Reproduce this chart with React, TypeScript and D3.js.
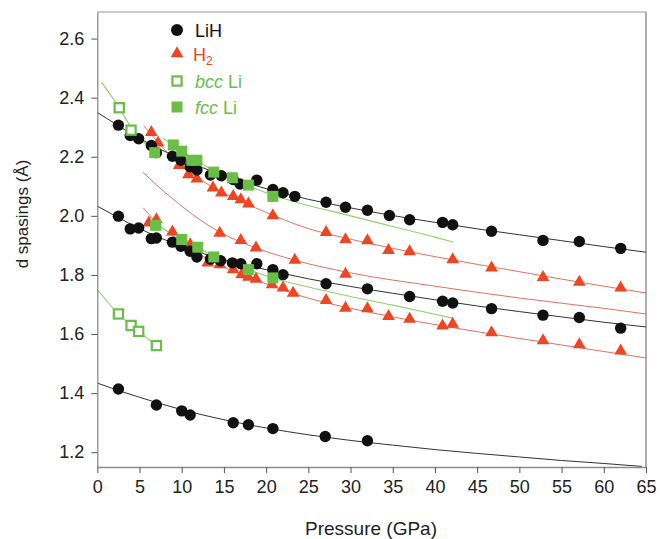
import React, { useRef, useEffect } from "react";
import * as d3 from "d3";

// LiH (black circles), three reflections
const lihUpperP = [2.5, 3.9, 4.9, 6.4, 7.0, 8.9, 9.9, 11.0, 11.8, 13.4, 14.7, 16.1, 16.9, 18.9, 20.8, 22.0, 23.4, 27.1, 29.4, 32.0, 34.6, 37.0, 40.9, 42.1, 46.7, 52.8, 57.1, 62.0];
const lihUpperD = [2.307, 2.272, 2.261, 2.238, 2.214, 2.202, 2.188, 2.166, 2.155, 2.138, 2.136, 2.123, 2.108, 2.121, 2.089, 2.078, 2.066, 2.046, 2.029, 2.019, 2.001, 1.987, 1.978, 1.970, 1.948, 1.917, 1.913, 1.890];
const lihMiddleP = [2.5, 3.9, 4.9, 6.4, 7.0, 8.9, 9.9, 11.0, 11.8, 13.4, 14.6, 16.0, 17.0, 18.9, 20.8, 22.0, 27.1, 32.0, 37.0, 40.9, 42.1, 46.7, 52.8, 57.1, 62.0];
const lihMiddleD = [1.999, 1.956, 1.959, 1.923, 1.925, 1.911, 1.897, 1.880, 1.861, 1.854, 1.848, 1.841, 1.838, 1.838, 1.818, 1.801, 1.770, 1.753, 1.727, 1.711, 1.705, 1.686, 1.664, 1.656, 1.620];
const lihLowerP = [2.5, 7.0, 10.0, 11.0, 16.1, 17.9, 20.8, 27.0, 32.0];
const lihLowerD = [1.414, 1.360, 1.340, 1.326, 1.300, 1.293, 1.280, 1.253, 1.239];

// H2 (red triangles)
const h2UpperP = [6.4, 7.2, 9.7, 10.8, 11.8, 13.7, 14.7, 16.1, 17.0, 17.9, 20.8, 27.1, 29.4, 32.0, 34.5, 37.0, 42.1, 46.7, 52.8, 57.1, 62.0];
const h2UpperD = [2.283, 2.247, 2.171, 2.140, 2.125, 2.095, 2.078, 2.066, 2.055, 2.041, 2.001, 1.944, 1.920, 1.916, 1.883, 1.879, 1.852, 1.824, 1.792, 1.776, 1.756];
const h2MiddleP = [14.5, 17.0, 18.8, 23.4, 29.4];
const h2MiddleD = [1.942, 1.917, 1.892, 1.850, 1.803];
const h2LowerP = [6.1, 7.0, 8.9, 11.0, 13.1, 14.5, 16.1, 17.1, 17.9, 18.8, 20.7, 22.0, 23.2, 27.1, 29.4, 32.0, 34.5, 37.0, 40.9, 42.1, 46.7, 52.8, 57.1, 62.0];
const h2LowerD = [1.976, 1.987, 1.946, 1.903, 1.841, 1.835, 1.818, 1.801, 1.793, 1.786, 1.767, 1.756, 1.739, 1.714, 1.688, 1.686, 1.660, 1.651, 1.628, 1.634, 1.605, 1.578, 1.564, 1.543];

// Li (green squares)
const bccUpperP = [2.6, 4.0];
const bccUpperD = [2.366, 2.290];
const bccLowerP = [2.5, 4.0, 4.9, 7.0];
const bccLowerD = [1.668, 1.629, 1.609, 1.561];
const fccUpperP = [6.8, 9.0, 10.0, 11.2, 11.8, 13.8, 16.0, 17.9, 20.8];
const fccUpperD = [2.214, 2.240, 2.219, 2.188, 2.188, 2.148, 2.129, 2.104, 2.066];
const fccLowerP = [6.9, 10.0, 11.9, 13.8, 17.9, 20.8];
const fccLowerD = [1.968, 1.920, 1.894, 1.861, 1.818, 1.790];

// fitted curves
const fitP = [0, 2.5, 5, 10, 15, 20, 25, 30, 35, 40, 45, 50, 55, 60, 65];
const fitLihUpperD = [2.350, 2.305, 2.262, 2.192, 2.137, 2.092, 2.056, 2.027, 2.001, 1.978, 1.956, 1.936, 1.916, 1.896, 1.877];
const fitLihMiddleD = [2.033, 1.994, 1.957, 1.897, 1.852, 1.818, 1.787, 1.761, 1.738, 1.716, 1.695, 1.676, 1.658, 1.640, 1.624];
const fitLihLowerP = [0, 2.5, 5, 10, 15, 20, 25, 30, 35, 40, 45, 50, 55, 60, 64.5];
const fitLihLowerD = [1.434, 1.409, 1.386, 1.344, 1.310, 1.282, 1.259, 1.240, 1.224, 1.209, 1.196, 1.184, 1.172, 1.162, 1.152];
const fitH2UpperP = [5.5, 7, 10, 15, 20, 25, 30, 35, 40, 45, 50, 55, 60, 65];
const fitH2UpperD = [2.305, 2.255, 2.168, 2.077, 2.012, 1.957, 1.921, 1.890, 1.862, 1.836, 1.811, 1.786, 1.762, 1.739];
const fitH2MiddleP = [5.4, 7, 9, 12, 14.5, 18, 23.4, 30, 40, 50, 60, 65];
const fitH2MiddleD = [2.148, 2.105, 2.056, 1.990, 1.945, 1.900, 1.850, 1.807, 1.762, 1.722, 1.687, 1.668];
const fitH2LowerP = [5.45, 7, 10, 13, 16, 20, 24, 30, 35, 40, 45, 50, 55, 60, 65];
const fitH2LowerD = [2.027, 1.978, 1.912, 1.855, 1.814, 1.770, 1.730, 1.687, 1.658, 1.632, 1.608, 1.585, 1.563, 1.541, 1.519];
const fitFccUpperP = [7.8, 9, 10, 12, 14, 16, 18, 20.8, 24, 30, 35, 40, 42.2];
const fitFccUpperD = [2.262, 2.240, 2.221, 2.183, 2.150, 2.124, 2.100, 2.070, 2.043, 2.000, 1.964, 1.928, 1.911];
const fitFccLowerP = [6.5, 10, 14, 18, 21, 26.4, 30, 35, 40, 42.2];
const fitFccLowerD = [1.978, 1.920, 1.862, 1.817, 1.788, 1.750, 1.727, 1.698, 1.667, 1.653];
const fitBccUpperP = [0.5, 2.6, 4.0, 5.5, 6.8];
const fitBccUpperD = [2.452, 2.366, 2.300, 2.250, 2.215];
const fitBccLowerP = [0, 2.5, 4.0, 4.9, 7.0];
const fitBccLowerD = [1.750, 1.668, 1.629, 1.609, 1.561];

const xTicks = [0, 5, 10, 15, 20, 25, 30, 35, 40, 45, 50, 55, 60, 65];
const yTicks = [1.2, 1.4, 1.6, 1.8, 2.0, 2.2, 2.4, 2.6];

const BLACK = "#111";
const RED = "#ee4523";
const GREEN = "#6abd45";
const FONT = "'Liberation Sans', Arial, sans-serif";

const zip = (p: number[], d: number[]) => p.map((v, i) => [v, d[i]] as [number, number]);

export default function App() {
  const xAxisRef = useRef<SVGGElement>(null);
  const yAxisRef = useRef<SVGGElement>(null);

  const width = 660;
  const height = 539;
  const left = 97.3, right = 646, top = 12, bottom = 467;

  const x = d3.scaleLinear().domain([0, 65]).range([left, right]);
  const y = d3.scaleLinear().domain([1.15, 2.69]).range([bottom, top]);

  useEffect(() => {
    const gx = d3.select(xAxisRef.current);
    gx.call(
      d3.axisBottom(x).tickValues(xTicks).tickSize(6).tickPadding(7).tickSizeOuter(0).tickFormat(d3.format("d")) as any
    );
    const gy = d3.select(yAxisRef.current);
    gy.call(
      d3.axisLeft(y).tickValues(yTicks).tickSize(6).tickPadding(7).tickSizeOuter(0).tickFormat(d3.format(".1f")) as any
    );
    [gx, gy].forEach((g) => {
      g.select(".domain").attr("stroke", "#8c8c8c").attr("stroke-width", 1.3);
      g.selectAll(".tick line").attr("stroke", "#555");
      g.selectAll(".tick text").attr("fill", "#222").style("font-family", FONT).style("font-size", "18px");
    });
  }, []);

  const line = d3
    .line<[number, number]>()
    .x((d) => x(d[0]))
    .y((d) => y(d[1]))
    .curve(d3.curveMonotoneX);

  const tri = d3.symbol().type(d3.symbolTriangle).size(70)() as string;

  const fits = [
    { pts: zip(fitP, fitLihUpperD), color: "#333", w: 1 },
    { pts: zip(fitP, fitLihMiddleD), color: "#333", w: 1 },
    { pts: zip(fitLihLowerP, fitLihLowerD), color: "#333", w: 1 },
    { pts: zip(fitH2UpperP, fitH2UpperD), color: "#e0604c", w: 0.9 },
    { pts: zip(fitH2MiddleP, fitH2MiddleD), color: "#e0604c", w: 0.9 },
    { pts: zip(fitH2LowerP, fitH2LowerD), color: "#e0604c", w: 0.9 },
    { pts: zip(fitFccUpperP, fitFccUpperD), color: "#8ed26c", w: 1.1 },
    { pts: zip(fitFccLowerP, fitFccLowerD), color: "#8ed26c", w: 1.1 },
    { pts: zip(fitBccUpperP, fitBccUpperD), color: "#8ed26c", w: 1.1 },
    { pts: zip(fitBccLowerP, fitBccLowerD), color: "#8ed26c", w: 1.1 },
  ];

  const lih = [...zip(lihUpperP, lihUpperD), ...zip(lihMiddleP, lihMiddleD), ...zip(lihLowerP, lihLowerD)];
  const h2 = [...zip(h2UpperP, h2UpperD), ...zip(h2MiddleP, h2MiddleD), ...zip(h2LowerP, h2LowerD)];
  const bcc = [...zip(bccUpperP, bccUpperD), ...zip(bccLowerP, bccLowerD)];
  const fcc = [...zip(fccUpperP, fccUpperD), ...zip(fccLowerP, fccLowerD)];

  const legendX = 177;
  const legendText = 195;

  return (
    <svg width={width} height={height} style={{ position: "absolute", left: 0, top: 0, background: "#fff" }}>
      {/* frame */}
      <line x1={left} x2={right} y1={top} y2={top} stroke="#9a9a9a" strokeWidth={1.2} />
      <line x1={right} x2={right} y1={top} y2={bottom} stroke="#9a9a9a" strokeWidth={1.6} />

      {fits.map((f, i) => (
        <path key={"f" + i} d={line(f.pts) || ""} fill="none" stroke={f.color} strokeWidth={f.w} />
      ))}

      {h2.map((d, i) => (
        <path key={"t" + i} d={tri} transform={`translate(${x(d[0])},${y(d[1])})`} fill={RED} />
      ))}
      {lih.map((d, i) => (
        <circle key={"c" + i} cx={x(d[0])} cy={y(d[1])} r={5.7} fill={BLACK} />
      ))}
      {fcc.map((d, i) => (
        <rect key={"s" + i} x={x(d[0]) - 5.5} y={y(d[1]) - 5.5} width={11} height={11} fill={GREEN} />
      ))}
      {bcc.map((d, i) => (
        <rect key={"o" + i} x={x(d[0]) - 4.6} y={y(d[1]) - 4.6} width={9.2} height={9.2} fill="#fff" stroke={GREEN} strokeWidth={2.2} />
      ))}

      <g ref={xAxisRef} transform={`translate(0,${bottom})`} />
      <g ref={yAxisRef} transform={`translate(${left},0)`} />

      {/* legend */}
      <g style={{ fontFamily: FONT, fontSize: 18 }}>
        <circle cx={legendX} cy={30} r={6} fill={BLACK} />
        <text x={legendText} y={36.5} fill={BLACK}>LiH</text>
        <path d={tri} transform={`translate(${legendX},53.5)`} fill={RED} />
        <text x={legendText - 2} y={60.5} fill={RED}>
          H<tspan fontSize={12} dy={4}>2</tspan>
        </text>
        <rect x={legendX - 4.6} y={81 - 4.6} width={9.2} height={9.2} fill="#fff" stroke={GREEN} strokeWidth={2.2} />
        <text x={legendText} y={87.5} fill={GREEN}>
          <tspan fontStyle="italic">bcc</tspan> Li
        </text>
        <rect x={legendX - 5.5} y={107 - 5.5} width={11} height={11} fill={GREEN} />
        <text x={legendText} y={113.5} fill={GREEN}>
          <tspan fontStyle="italic">fcc</tspan> Li
        </text>
      </g>

      {/* axis titles */}
      <text x={371} y={535} textAnchor="middle" fill="#222" style={{ fontFamily: FONT, fontSize: 19 }}>
        Pressure (GPa)
      </text>
      <text
        transform="translate(28,214) rotate(-90)"
        textAnchor="middle"
        fill="#222"
        style={{ fontFamily: FONT, fontSize: 17 }}
      >
        d spasings (Å)
      </text>
    </svg>
  );
}
